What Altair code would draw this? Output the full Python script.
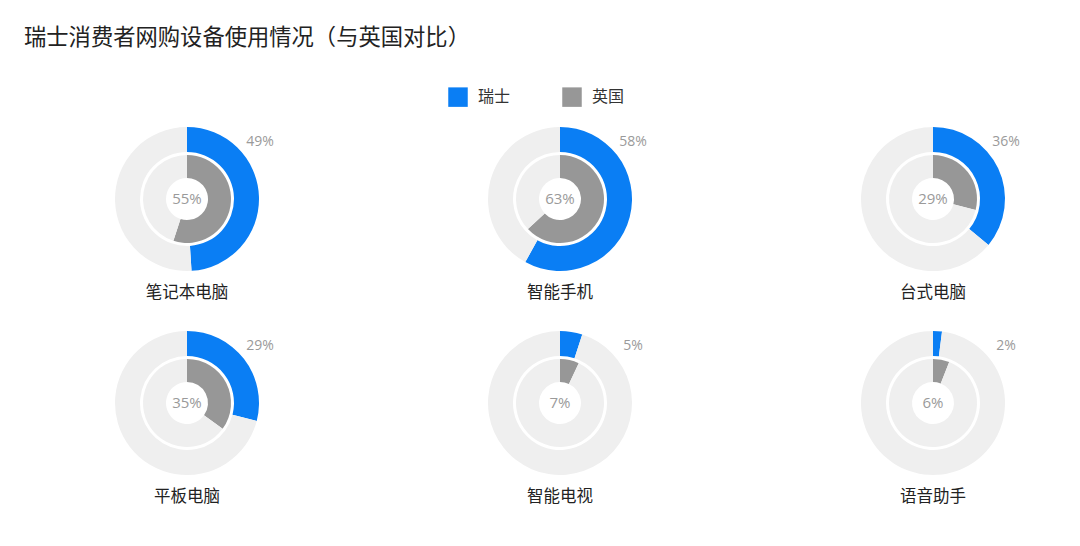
import altair as alt
import pandas as pd

categories = ["笔记本电脑", "智能手机", "台式电脑", "平板电脑", "智能电视", "语音助手"]
swiss = [49, 58, 36, 29, 5, 2]
uk = [55, 63, 29, 35, 7, 6]
series = ["瑞士", "英国"]
rest_label = "其余"

BLUE = "#0a7ef4"
GRAY = "#979797"
LIGHT = "#efefef"
FONT = "Noto Sans CJK SC"

rows = []
for cat, s, u in zip(categories, swiss, uk):
    for ring, v in ((series[0], s), (series[1], u)):
        rows.append({"cat": cat, "ring": ring, "seg": ring, "value": v, "order": 1, "label": f"{v}%"})
        rows.append({"cat": cat, "ring": ring, "seg": rest_label, "value": 100 - v, "order": 2, "label": ""})
df = pd.DataFrame(rows)

color = alt.Color(
    "seg:N",
    scale=alt.Scale(domain=[series[0], series[1], rest_label], range=[BLUE, GRAY, LIGHT]),
    legend=alt.Legend(
        title=None, values=series, orient="none", direction="horizontal",
        legendX=391, legendY=-17, symbolType="square", symbolSize=380,
        symbolStrokeWidth=0, labelFontSize=16, labelFont=FONT, labelColor="#333",
        columnPadding=51, labelOffset=10,
    ),
)

sel_s = (alt.datum.ring == series[0]) & (alt.datum.order == 1)
sel_u = (alt.datum.ring == series[1]) & (alt.datum.order == 1)


def make_panel(cat):
    base = alt.Chart()
    outer = base.transform_filter(alt.datum.ring == series[0]).mark_arc(
        radius=72, radius2=47
    ).encode(
        theta=alt.Theta("value:Q", stack=True),
        color=color,
        order=alt.Order("order:Q"),
    )
    inner = base.transform_filter(alt.datum.ring == series[1]).mark_arc(
        radius=44, radius2=21
    ).encode(
        theta=alt.Theta("value:Q", stack=True),
        color=color,
        order=alt.Order("order:Q"),
    )
    txt_outer = base.transform_filter(sel_s).mark_text(
        dx=73, dy=-57, fontSize=14, font="Open Sans", color="#9a9a9a"
    ).encode(text="label:N")
    txt_inner = base.transform_filter(sel_u).mark_text(
        fontSize=15, font="Open Sans", color="#9a9a9a"
    ).encode(text="label:N")
    txt_cat = base.transform_filter(sel_s).mark_text(
        dy=94, fontSize=16.5, font=FONT, color="#222"
    ).encode(text="cat:N")
    return alt.layer(
        outer, inner, txt_outer, txt_inner, txt_cat, data=df
    ).transform_filter(alt.datum.cat == cat).properties(width=260, height=190)


chart = alt.concat(
    *[make_panel(c) for c in categories],
    columns=3,
    spacing={"row": 14, "column": 113},
    bounds="flush",
).properties(
    title=alt.TitleParams(
        "瑞士消费者网购设备使用情况（与英国对比）", anchor="start", fontSize=22.3,
        font=FONT, fontWeight="normal", color="#222", offset=38, dx=-33,
    ),
    padding={"left": 16, "top": 18, "right": 5, "bottom": 5},
).configure_view(stroke=None)

chart.save("out.html", embed_options={"renderer": "svg", "actions": False})
